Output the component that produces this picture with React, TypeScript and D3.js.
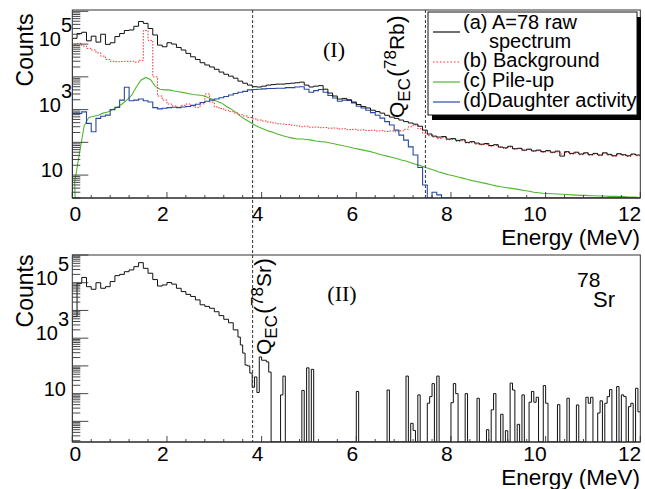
import React from "react";
import * as d3 from "d3";

const W = 645;
const H = 489;
const BIN_WIDTH = 0.1;
const FINE_BIN = 0.05;

// ---- Panel (I): A=78 spectra, 0.1 MeV bins from 0 to 12 MeV ----
const rawSpectrum = [
  150000, 210000, 230000, 126000, 175000, 115000, 200000, 98000, 110000, 170000,
  210000, 260000, 270000, 350000, 490000, 430000, 300000, 190000, 93000, 83000,
  110000, 100000, 79000, 66000, 52000, 41000, 34000, 27000, 23000, 20000,
  17000, 14000, 12000, 10500, 9100, 7400, 6400, 5600, 5000, 4900,
  5200, 5600, 5800, 6000, 6000, 6200, 6400, 6600, 6900, 5600,
  4900, 5200, 5400, 4200, 3200, 2600, 2100, 2200, 2000, 1700,
  1430, 1240, 1120, 960, 870, 780, 670, 590, 540, 480,
  430, 390, 360, 310, 236, 180, 155, 145, 150, 126,
  130, 115, 120, 100, 105, 95, 88, 92, 80, 85,
  72, 68, 76, 64, 66, 58, 62, 55, 58, 52,
  56, 50, 54, 38, 52, 46, 50, 44, 48, 42,
  46, 41, 48, 43, 39, 45, 42, 39, 44, 41,
];

const background = [
  100000, 105000, 87000, 74000, 66000, 54000, 43000, 34000, 30000, 29000,
  29500, 30000, 30000, 28000, 32000, 260000, 130000, 10000, 2600, 1950,
  1480, 1300, 1200, 1350, 1480, 1300, 1170, 1500, 3000, 1700,
  1200, 1080, 960, 870, 790, 700, 640, 570, 520, 480,
  450, 420, 395, 370, 360, 350, 335, 320, 300, 310,
  290, 295, 280, 285, 270, 275, 255, 260, 245, 250,
  236, 242, 230, 235, 222, 228, 215, 222, 210, 225,
  250, 300, 340, 260, 190, 160, 145, 130, 140, 120,
  122, 108, 112, 96, 98, 88, 84, 86, 76, 80,
  70, 66, 72, 62, 64, 56, 60, 53, 56, 50,
  54, 48, 51, 44, 49, 44, 47, 42, 45, 41,
  44, 40, 45, 41, 38, 42, 40, 37, 42, 39,
];

const pileUp = [
  6, 45, 320, 580, 630, 670, 780, 850, 1000, 1170,
  1480, 1950, 2700, 4800, 7900, 9600, 8300, 5200, 4200, 4000,
  4000, 3700, 3500, 3300, 3100, 2900, 2800, 2700, 2400, 2100,
  1800, 1600, 1270, 1050, 840, 630, 510, 420, 340, 290,
  250, 220, 200, 178, 160, 145, 135, 126, 126, 122,
  117, 110, 105, 102, 95, 89, 83, 77, 72, 66,
  62, 58, 54, 50, 45, 41, 38, 35, 32, 29,
  27, 24, 21.5, 19.5, 17.5, 15.7, 14, 12.5, 11.3, 10.3,
  9.5, 8.7, 8.1, 7.3, 6.8, 6.4, 5.9, 5.5, 5.1, 4.7,
  4.4, 4.2, 4.0, 3.8, 3.6, 3.4, 3.2, 3.0, 2.9, 2.8,
  2.75, 2.7, 2.65, 2.6, 2.55, 2.5, 2.45, 2.4, 2.4, 2.35,
  2.35, 2.3, 2.3, 2.25, 2.25, 2.2, 2.2, 2.15, 2.15, 2.1,
];

const daughterActivity = [
  760, 760, 850, 380, 210, 540, 630, 680, 1000, 1170,
  1950, 4800, 1860, 1950, 2100, 1860, 1700, 1150, 1050, 1100,
  1150, 1180, 1150, 1200, 1250, 1350, 1450, 1650, 1800, 1950,
  2100, 2300, 2500, 2800, 3100, 3400, 3600, 4000, 4100, 4200,
  4300, 4400, 4400, 4500, 4500, 4700, 4700, 4900, 5000, 4200,
  3400, 3800, 4100, 3400, 2700, 2250, 1800, 1950, 1900, 1600,
  1270, 1120, 960, 810, 670, 550, 430, 340, 236, 166,
  117, 73, 41, 17, 5, 0, 3, 2.5, 0, 0,
  0, 0, 0, 0, 0, 0, 0, 0, 0, 0,
  0, 0, 0, 0, 0, 0, 0, 0, 0, 0,
  0, 0, 0, 0, 0, 0, 0, 0, 0, 0,
  0, 0, 0, 0, 0, 0, 0, 0, 0, 0,
];

// ---- Panel (II): 78Sr ----
// 0.1 MeV bins from 0 to 3.5 MeV
const sr78Coarse = [
  6000, 95000, 155000, 72000, 58000, 100000, 63000, 72000, 110000, 180000,
  200000, 250000, 290000, 380000, 530000, 330000, 220000, 130000, 76000, 83000,
  102000, 89000, 63000, 48000, 38000, 32000, 24000, 16000, 14000, 12000,
  9000, 6500, 4800, 3600, 2000,
];
// 0.05 MeV bins from 3.5 MeV
const sr78FineStart = 3.5;
const sr78Fine = [1100, 570, 290, 107, 100, 55, 17, 40, 11, 210, 160, 160, 140, 60, 0, 0];
// sparse 0.05 MeV bins above 4.3 MeV (bin low edge, counts)
const sr78TailEnergy = [
  4.4, 4.45, 4.85, 4.95, 5.05, 6.0, 6.65, 7.05, 7.15, 7.2,
  7.3, 7.5, 7.55, 7.6, 7.7, 8.0, 8.05, 8.1, 8.3, 8.55,
  8.75, 8.85, 8.9, 9.05, 9.15, 9.25, 9.3, 9.4, 9.5, 9.65,
  9.7, 9.75, 9.8, 9.95, 10.0, 10.25, 10.45, 10.65, 10.85, 10.9,
  10.95, 11.1, 11.15, 11.25, 11.3, 11.35, 11.5, 11.6, 11.65, 11.75,
  11.8, 11.9, 11.95,
];
const sr78TailCounts = [
  9, 43, 13, 85, 75, 12, 13.5, 43, 0.85, 0.47,
  9, 4.5, 7.8, 23, 43, 4.7, 23, 10, 10, 6.8,
  0.5, 2.6, 10, 1.8, 0.46, 24, 13.5, 0.78, 9, 4.9,
  12, 4.9, 7.4, 19.5, 4.5, 4, 6.8, 3.9, 7.4, 4.5,
  7.4, 2.0, 5.5, 4.5, 7.8, 14, 18, 9, 7.8, 3.4,
  4.5, 15.6, 2.2,
];

const xTickValues = [0, 2, 4, 6, 8, 10, 12];
const yLabelPowers = [1, 3, 5];
const qecSr78 = 3.81;
const qecRb78 = 7.46;
const legendLabels = ["(a) A=78 raw", "(b) Background", "(c) Pile-up", "(d)Daughter activity"];

const SANS = "'Liberation Sans', Arial, Helvetica, sans-serif";
const SERIF = "'Liberation Serif', 'Times New Roman', serif";
const C_BLACK = "#111";
const C_RED = "#ff2a2a";
const C_GREEN = "#4fb82e";
const C_BLUE = "#2a48a3";

type Bin = { x0: number; x1: number; v: number };

function toBins(values: number[], start: number, width: number): Bin[] {
  return values.map((v, i) => ({ x0: start + i * width, x1: start + (i + 1) * width, v }));
}

function stepPath(bins: Bin[], x: (v: number) => number, y: (v: number) => number, yb: number) {
  const p = d3.path();
  p.moveTo(x(bins[0].x0), yb);
  bins.forEach((b) => {
    const yy = b.v > 0 ? y(b.v) : yb;
    p.lineTo(x(b.x0), yy);
    p.lineTo(x(b.x1), yy);
  });
  return p.toString();
}

function QLabel({ tx, ty, element }: { tx: number; ty: number; element: string }) {
  return (
    <text transform={`translate(${tx},${ty}) rotate(-90)`} fontSize={21} fontFamily={SANS}>
      <tspan>Q</tspan>
      <tspan fontSize={17} dy={6}>EC</tspan>
      <tspan fontSize={24} dy={-6} dx={1}>(</tspan>
      <tspan fontSize={17} dy={-8}>78</tspan>
      <tspan dy={8}>{element}</tspan>
      <tspan fontSize={24}>)</tspan>
    </text>
  );
}

export default function App() {
  const x = d3.scaleLinear().domain([0, 12]).range([72.3, 640.3]);
  const yTop = d3.scaleLog().domain([2, 1.1e6]).range([198, 10]).clamp(true);
  const yBot = d3.scaleLog().domain([0.18, 1e6]).range([442, 255]).clamp(true);

  const top = { y: yTop, y0: 10, y1: 198 };
  const bot = { y: yBot, y0: 255, y1: 442 };

  // bottom panel bins
  const tailStart = sr78FineStart + sr78Fine.length * FINE_BIN;
  const nTail = Math.round((12 - tailStart) / FINE_BIN);
  const tailVals = d3.range(nTail).map((i) => {
    const e = tailStart + i * FINE_BIN;
    const k = sr78TailEnergy.findIndex((t) => Math.abs(t - e) < 1e-6);
    return k >= 0 ? sr78TailCounts[k] : 0;
  });
  const srBins = [
    ...toBins(sr78Coarse, 0, BIN_WIDTH),
    ...toBins(sr78Fine, sr78FineStart, FINE_BIN),
    ...toBins(tailVals, tailStart, FINE_BIN),
  ];

  const pileLine = d3
    .line<number>()
    .x((_, i) => x((i + 0.5) * BIN_WIDTH))
    .y((v) => yTop(v));
  const pilePath = `M${x(0.06)},198L` + (pileLine(pileUp) as string).slice(1);

  const renderYAxis = (panel: any, plainRight: number, baseRight: number) => {
    const [lo, hi] = panel.y.domain();
    const ticks: { v: number; major: boolean }[] = [];
    for (let k = Math.floor(Math.log10(lo)); k <= Math.ceil(Math.log10(hi)); k++) {
      for (let m = 1; m <= 9; m++) {
        const v = m * Math.pow(10, k);
        if (v >= lo * 0.999 && v <= hi * 1.001) ticks.push({ v, major: m === 1 });
      }
    }
    return (
      <g>
        {ticks.map((t, i) => (
          <line
            key={i}
            x1={72.3}
            x2={72.3 + (t.major ? 16 : 8)}
            y1={panel.y(t.v)}
            y2={panel.y(t.v)}
            stroke="#333"
            strokeWidth={0.9}
          />
        ))}
        {yLabelPowers.map((p) => {
          const ty = panel.y(Math.pow(10, p));
          if (p === 1)
            return (
              <text key={p} x={plainRight} y={ty + 2} textAnchor="end" fontSize={20} fontFamily={SANS}>
                10
              </text>
            );
          return (
            <g key={p}>
              <text x={baseRight} y={ty + 2} textAnchor="end" fontSize={20} fontFamily={SANS}>
                10
              </text>
              <text x={baseRight} y={ty - 12} fontSize={20} fontFamily={SANS}>
                {p}
              </text>
            </g>
          );
        })}
      </g>
    );
  };

  const renderXAxis = (yAxis: number, labelBase: number, titleBase: number) => (
    <g>
      <line x1={72.3} x2={640.3} y1={yAxis} y2={yAxis} stroke="#222" strokeWidth={1} />
      {d3.range(31).map((i) => {
        const t = i * 0.4;
        const major = i % 5 === 0;
        return (
          <line key={i} x1={x(t)} x2={x(t)} y1={yAxis} y2={yAxis - (major ? 6 : 3)} stroke="#333" strokeWidth={0.9} />
        );
      })}
      {xTickValues.map((t) => {
        const label = String(t);
        const px = x(t);
        const props =
          t === 0
            ? { x: px + 3, textAnchor: "middle" }
            : label.length > 1
            ? { x: px + 1, textAnchor: "end" }
            : { x: px - 4, textAnchor: "middle" };
        return (
          <text key={t} x={props.x} y={labelBase} textAnchor={props.textAnchor as any} fontSize={21} fontFamily={SANS}>
            {label}
          </text>
        );
      })}
      <text x={640} y={titleBase} textAnchor="end" fontSize={22.5} fontFamily={SANS}>
        Energy (MeV)
      </text>
    </g>
  );

  const legendRows = [
    { color: C_BLACK, dash: undefined, ly: 32 },
    { color: C_RED, dash: "1.5,2", ly: 62 },
    { color: C_GREEN, dash: undefined, ly: 82 },
    { color: C_BLUE, dash: undefined, ly: 102 },
  ];

  return (
    <svg
      width={W}
      height={H}
      viewBox={`0 0 ${W} ${H}`}
      style={{ position: "absolute", left: 0, top: 0, background: "#fff" }}
    >
      <defs>
        <clipPath id="clipTop">
          <rect x={72.3} y={10} width={568} height={188} />
        </clipPath>
        <clipPath id="clipBot">
          <rect x={72.3} y={255} width={568} height={187} />
        </clipPath>
      </defs>
      <rect x={0} y={0} width={W} height={H} fill="#fff" />

      {/* ---------- Panel I ---------- */}
      <g clipPath="url(#clipTop)" fill="none">
        <path d={pilePath} stroke={C_GREEN} strokeWidth={1.1} />
        <path d={stepPath(toBins(background, 0, BIN_WIDTH), x, yTop, 198)} stroke={C_RED} strokeWidth={1} strokeDasharray="1.5,1.5" />
        <path d={stepPath(toBins(daughterActivity, 0, BIN_WIDTH), x, yTop, 198)} stroke={C_BLUE} strokeWidth={1.1} />
        <path d={stepPath(toBins(rawSpectrum, 0, BIN_WIDTH), x, yTop, 198)} stroke={C_BLACK} strokeWidth={1} />
      </g>
      <rect x={72.3} y={10} width={568} height={188} fill="none" stroke="#333" strokeWidth={1} />
      {renderYAxis(top, 63, 61)}
      {renderXAxis(198, 221, 245)}
      <text transform="rotate(-90)" x={-50} y={33} textAnchor="middle" fontSize={23} fontFamily={SANS}>
        Counts
      </text>
      <text x={334} y={57} textAnchor="middle" fontSize={22} fontFamily={SERIF}>
        (I)
      </text>
      <line x1={x(qecRb78)} x2={x(qecRb78)} y1={10} y2={198} stroke="#333" strokeWidth={1} strokeDasharray="3,2" />
      <QLabel tx={x(qecRb78) - 21} ty={118} element="Rb" />

      {/* Legend */}
      <rect x={432} y={17} width={209} height={103} fill="#000" />
      <rect x={428} y={12} width={209} height={103} fill="#fff" stroke="#111" strokeWidth={1} />
      {legendRows.map((r, i) => (
        <line key={i} x1={433} x2={460} y1={r.ly} y2={r.ly} stroke={r.color} strokeWidth={1.2} strokeDasharray={r.dash} />
      ))}
      <text x={463} y={29} fontSize={20} fontFamily={SANS}>{legendLabels[0]}</text>
      <text x={489} y={48} fontSize={20} fontFamily={SANS}>spectrum</text>
      <text x={463} y={67} fontSize={20} fontFamily={SANS}>{legendLabels[1]}</text>
      <text x={463} y={87} fontSize={20} fontFamily={SANS}>{legendLabels[2]}</text>
      <text x={463} y={107} fontSize={20} fontFamily={SANS}>{legendLabels[3]}</text>

      {/* ---------- Panel II ---------- */}
      <g clipPath="url(#clipBot)" fill="none">
        <path d={stepPath(srBins, x, yBot, 442)} stroke={C_BLACK} strokeWidth={1} />
      </g>
      <rect x={72.3} y={255} width={568} height={187} fill="none" stroke="#333" strokeWidth={1} />
      {renderYAxis(bot, 66, 58)}
      {renderXAxis(442, 461, 485)}
      <text transform="rotate(-90)" x={-291} y={33} textAnchor="middle" fontSize={23} fontFamily={SANS}>
        Counts
      </text>
      <text x={342} y={301} textAnchor="middle" fontSize={22} fontFamily={SERIF}>
        (II)
      </text>
      <text x={577} y={287} fontSize={21} fontFamily={SANS}>78</text>
      <text x={593} y={307} fontSize={22} fontFamily={SANS}>Sr</text>
      <QLabel tx={x(qecSr78) + 18.5} ty={355} element="Sr" />

      {/* Q_EC(78Sr) line spanning both panels */}
      <line x1={x(qecSr78)} x2={x(qecSr78)} y1={10} y2={442} stroke="#333" strokeWidth={1} strokeDasharray="3,2" />
    </svg>
  );
}
